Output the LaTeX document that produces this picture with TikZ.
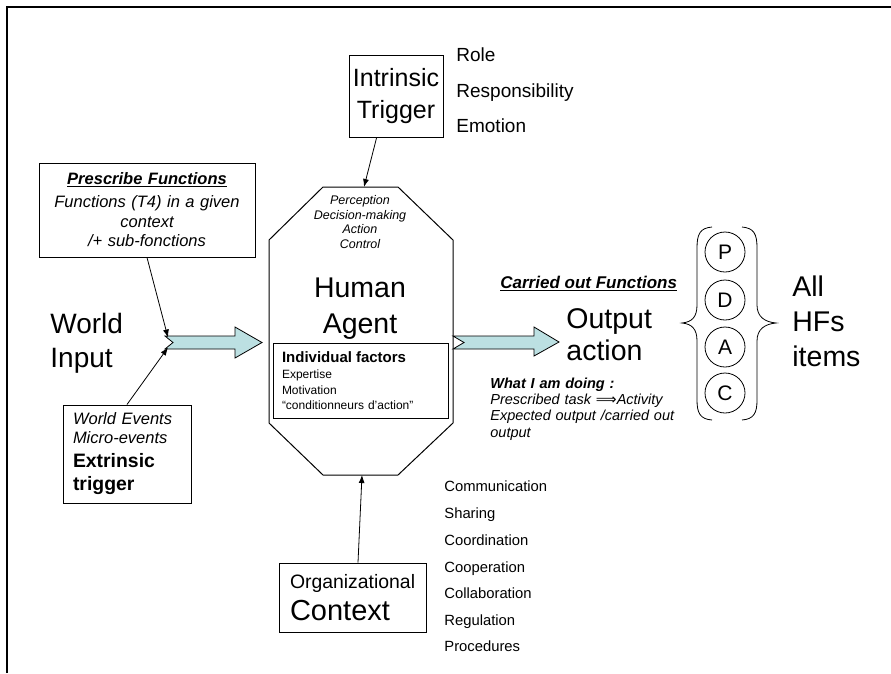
\documentclass[tikz,border=0pt]{standalone}
\usepackage{fontspec}
\setmainfont{Liberation Sans}
\newfontfamily\arrowfont{DejaVu Sans}
\usetikzlibrary{arrows.meta}
\definecolor{flowfill}{RGB}{188,224,226}

\begin{document}
\begin{tikzpicture}[x=1pt, y=-1pt, line width=0.8pt,
		box/.style={draw, line width=1pt, inner sep=0pt},
		conn/.style={-{Latex[length=8pt,width=6pt]}},
		flow/.style={draw, line width=0.8pt, fill=flowfill},
		side/.style={anchor=base west, inner sep=0pt},
		listitem/.style={side, font=\fontsize{14.8}{16}\selectfont},
		pdac/.style={draw, circle, minimum size=40pt, inner sep=0pt, line width=0.8pt, font=\fontsize{21}{24}\selectfont}]
		\useasboundingbox (0,0) rectangle (891,673);
		\draw[line width=1.8pt] (7,673) -- (7,7) -- (891,7);
		
		% trigger on top
		\node[box, minimum width=94pt, minimum height=82pt, align=center, font=\fontsize{25}{32}\selectfont] (intrinsic) at (396,96) {Intrinsic\\Trigger};
		\node[side, font=\fontsize{19}{22}\selectfont] (role) at (456,61.7) {Role};
		\node[side, font=\fontsize{19}{22}\selectfont] (resp) at (456,97.3) {Responsibility};
		\node[side, font=\fontsize{19}{22}\selectfont] (emotion) at (456,132.7) {Emotion};
		
		% human agent
		\draw[line width=1pt] (323,187) -- (398,187) -- (453,240) -- (453,423) -- (398,475) -- (323,475) -- (269,423) -- (269,240) -- cycle;
		\coordinate (agtop) at (364,187);
		\coordinate (agbot) at (362,475);
		\node[align=center, inner sep=0pt, font=\itshape\fontsize{12.5}{14.7}\selectfont] (tasks) at (360,222) {Perception\\Decision-making\\Action\\Control};
		\node[align=center, inner sep=0pt, font=\fontsize{28.5}{36}\selectfont] (agent) at (360,309) {Human\\Agent};
		\node[box, text width=157pt, inner xsep=9pt, minimum height=75pt, align=left, font=\fontsize{12}{15.5}\selectfont] (factors) at (360.5,380.5) {\textbf{\fontsize{15}{15.5}\selectfont Individual factors}\\[1pt]Expertise\\Motivation\\``conditionneurs d'action''};
		\draw[conn] (intrinsic.245) -- (agtop);
		
		% world input
		\node[box, text width=200pt, inner xsep=8pt, minimum height=94pt, align=center, font=\itshape\fontsize{16.5}{19.5}\selectfont] (prescribe) at (147,210) {\underline{\textbf{Prescribe Functions}}\\[3.5pt]Functions (T4) in a given\\context\\/+ sub-fonctions};
		\node[box, text width=108pt, inner xsep=10pt, minimum height=98pt, align=left, font=\fontsize{16.5}{19}\selectfont] (events) at (127,454) {\textit{World Events}\\\textit{Micro-events}\\[4.5pt]\textbf{\fontsize{19.4}{19}\selectfont Extrinsic}\\[4.4pt]\textbf{\fontsize{19.4}{19}\selectfont trigger}};
		\node[anchor=west, align=left, inner sep=0pt, font=\fontsize{28}{34}\selectfont] (world) at (50,343) {World\\Input};
		\draw[flow] (165,336) -- (235,336) -- (235,327) -- (262,342.5) -- (235,358) -- (235,349) -- (165,349) -- (173,342.5) -- cycle;
		\coordinate (inup) at (168,337.5);
		\coordinate (indown) at (168,347.5);
		\draw[conn] (prescribe.south) -- (inup);
		\draw[conn] (events.north) -- (indown);
		
		% output
		\draw[flow] (453,336) -- (534,336) -- (534,327) -- (559,342) -- (534,356) -- (534,349) -- (453,349) -- (464,342.5) -- cycle;
		\node[side, font=\bfseries\itshape\fontsize{17}{20}\selectfont] (carried) at (500,288.3) {\underline{Carried out Functions}};
		\node[anchor=west, align=left, inner sep=0pt, font=\fontsize{28.5}{31.5}\selectfont] (output) at (566,334.5) {Output\\action};
		\node[anchor=west, text width=200pt, align=left, inner sep=0pt, font=\itshape\fontsize{14.5}{16.3}\selectfont] (doing) at (490,409) {\textbf{What I am doing :}\\Prescribed task {\upshape\arrowfont ⟹}Activity\\Expected output /carried out\\output};
		
		% HF items
		\node[pdac] (p) at (725,252) {P};
		\node[pdac] (d) at (725,300) {D};
		\node[pdac] (a) at (725,347) {A};
		\node[pdac] (c) at (725,393) {C};
		\draw (712,227) .. controls (700,228) and (697,234) .. (697,248) -- (697,305) .. controls (697,317) and (692,322) .. (682,323) .. controls (692,324) and (697,329) .. (697,341) -- (697,400) .. controls (697,413) and (700,419) .. (712,420);
		\draw (742,227) .. controls (754,228) and (757,234) .. (757,248) -- (757,305) .. controls (757,317) and (765,322) .. (776,323) .. controls (765,324) and (757,329) .. (757,341) -- (757,400) .. controls (757,413) and (754,419) .. (742,420);
		\node[anchor=west, align=left, inner sep=0pt, font=\fontsize{28.5}{35}\selectfont] (hfs) at (792,321.8) {All\\HFs\\items};
		
		% organizational context
		\node[box, text width=125pt, inner xsep=11pt, minimum height=69pt, align=left, font=\fontsize{29}{31.7}\selectfont] (org) at (352.5,597.5) {{\fontsize{19.4}{22}\selectfont Organizational}\\Context};
		\draw[conn] ([xshift=5.5pt]org.north) -- (agbot);
		\node[listitem] (comm) at (444,491.7) {Communication};
		\node[listitem] (share) at (444,518.3) {Sharing};
		\node[listitem] (coord) at (444,545) {Coordination};
		\node[listitem] (coop) at (444,572.3) {Cooperation};
		\node[listitem] (collab) at (444,598.3) {Collaboration};
		\node[listitem] (regul) at (444,625.7) {Regulation};
		\node[listitem] (proc) at (444,651.7) {Procedures};
		
	\end{tikzpicture}
\end{document}
